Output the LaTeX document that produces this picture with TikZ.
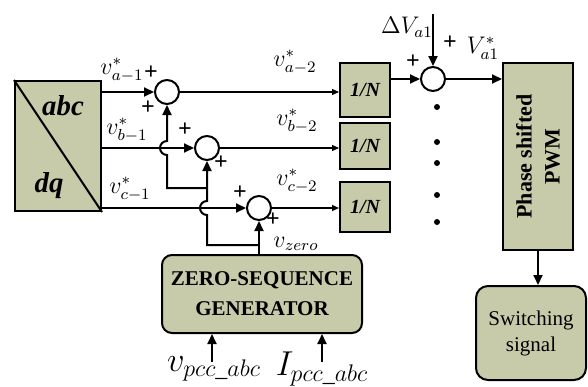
\documentclass[tikz,border=0pt]{standalone}
\usepackage{amsmath}
\usepackage{fontspec}
\setmainfont{Liberation Serif}
\usepackage{tikz}
\usetikzlibrary{arrows.meta,positioning}
\definecolor{blkfill}{RGB}{200,203,170}

\begin{document}
\begin{tikzpicture}[x=0.5pt,y=-0.5pt,line width=1pt,>={Triangle[length=5pt,width=4.5pt]},
  blk/.style={draw,fill=blkfill,inner sep=0pt},
  sumnode/.style={draw,circle,minimum size=12pt,inner sep=0pt},
  plussign/.style={font=\bfseries\large,inner sep=0pt},
  sig/.style={font=\large,inner sep=0pt},
  feed/.style={line width=0.6pt,-{Triangle[length=3.5pt,width=3pt]}}]
\useasboundingbox (0,0) rectangle (588,386);
% abc/dq converter
\node[blk,minimum width=43pt,minimum height=65pt] (conv) at (58,146) {};
\draw (conv.north west) -- (conv.south east);
\node[font=\bfseries\itshape\Large,inner sep=0pt] (abc) at (63,106) {abc};
\node[font=\bfseries\itshape\Large,inner sep=0pt] (dq) at (49,186) {dq};
% summing points
\node[sumnode] (suma) at (167,92) {};
\node[sumnode] (sumb) at (207,148) {};
\node[sumnode] (sumc) at (259,208) {};
\draw[->] (conv.east |- suma) -- (suma);
\draw[->] (conv.east |- sumb) -- (sumb);
\draw[->] (conv.east |- sumc) -- (sumc);
\node[sig] (va1) at (122,70) {$v_{a-1}^{*}$};
\node[sig] (vb1) at (127,130) {$v_{b-1}^{*}$};
\node[sig] (vc1) at (130,189) {$v_{c-1}^{*}$};
\node[plussign] (pa1) at (151,73) {+};
\node[plussign] (pa2) at (148,108) {+};
\node[plussign] (pb1) at (185,130) {+};
\node[plussign] (pb2) at (221,163) {+};
\node[plussign] (pc1) at (240,193) {+};
\node[plussign] (pc2) at (273,220) {+};
% 1/N blocks
\node[blk,minimum width=25pt,minimum height=27pt,font=\bfseries\itshape] (diva) at (365,90) {1/N};
\node[blk,minimum width=25pt,minimum height=23pt,font=\bfseries\itshape] (divb) at (365,146) {1/N};
\node[blk,minimum width=25pt,minimum height=25pt,font=\bfseries\itshape] (divc) at (365,207) {1/N};
\draw[feed] (suma) -- (suma -| diva.west);
\draw[feed] (sumb) -- (sumb -| divb.west);
\draw[feed] (sumc) -- (sumc -| divc.west);
\node[sig] (va2) at (295,62) {$v_{a-2}^{*}$};
\node[sig] (vb2) at (297,121) {$v_{b-2}^{*}$};
\node[sig] (vc2) at (297,181) {$v_{c-2}^{*}$};
% zero sequence
\node[blk,rounded corners=5pt,minimum width=100pt,minimum height=39pt,align=center,
  font=\bfseries\fontsize{10.5}{15}\selectfont] (zsg) at (262,294) {ZERO-SEQUENCE\\GENERATOR};
\coordinate (jc) at (259,245);
\coordinate (jb) at (207,188);
\coordinate (ja) at (167,188);
\draw[->] (zsg.north -| sumc) -- (sumc);
\draw[->] (jc) -- (jc -| sumb) -- (207,215) arc[start angle=90,end angle=270,radius=7] -- (sumb);
\draw[->] (jb) -- (ja) -- (167,155) arc[start angle=90,end angle=270,radius=7] -- (suma);
\node[sig] (vzero) at (296,244) {$v_{zero}$};
\node[font=\LARGE,inner sep=0pt] (vpcc) at (214,369) {$v_{pcc\_abc}$};
\node[font=\LARGE,inner sep=0pt] (ipcc) at (322,369) {$I_{pcc\_abc}$};
\coordinate (vin) at (212,362);
\coordinate (iin) at (322,362);
\draw[->] (vin) -- (vin |- zsg.south);
\draw[->] (iin) -- (iin |- zsg.south);
% cell a1 and PWM
\node[sumnode] (sumv) at (433,79) {};
\coordinate (dvtop) at (433,14);
\draw[->] (diva.east |- sumv) -- (sumv);
\draw[->] (dvtop) -- (sumv);
\node[sig] (dva) at (407,27) {$\Delta V_{a1}$};
\node[plussign] (pv1) at (413,62) {+};
\node[plussign] (pv2) at (450,43) {+};
\node[sig] (vstar) at (483,48) {$V_{a1}^{*}$};
\foreach \y in {107,142,163,195,222} \fill (437,\y) circle[radius=3];
\node[blk,minimum width=35pt,minimum height=93.5pt] (pwm) at (538,156.5) {};
\node[rotate=90,align=center,font=\bfseries\fontsize{11}{14}\selectfont] (pwmtxt) at (pwm.center) {Phase shifted\\PWM};
\draw[->] (sumv) -- (sumv -| pwm.west);
\node[blk,rounded corners=6pt,minimum width=55pt,minimum height=47pt,align=center,
  font=\fontsize{10.5}{13}\selectfont] (sw) at (531,333) {Switching\\signal};
\draw[->] (pwm.south) -- (pwm.south |- sw.north);
\end{tikzpicture}
\end{document}
